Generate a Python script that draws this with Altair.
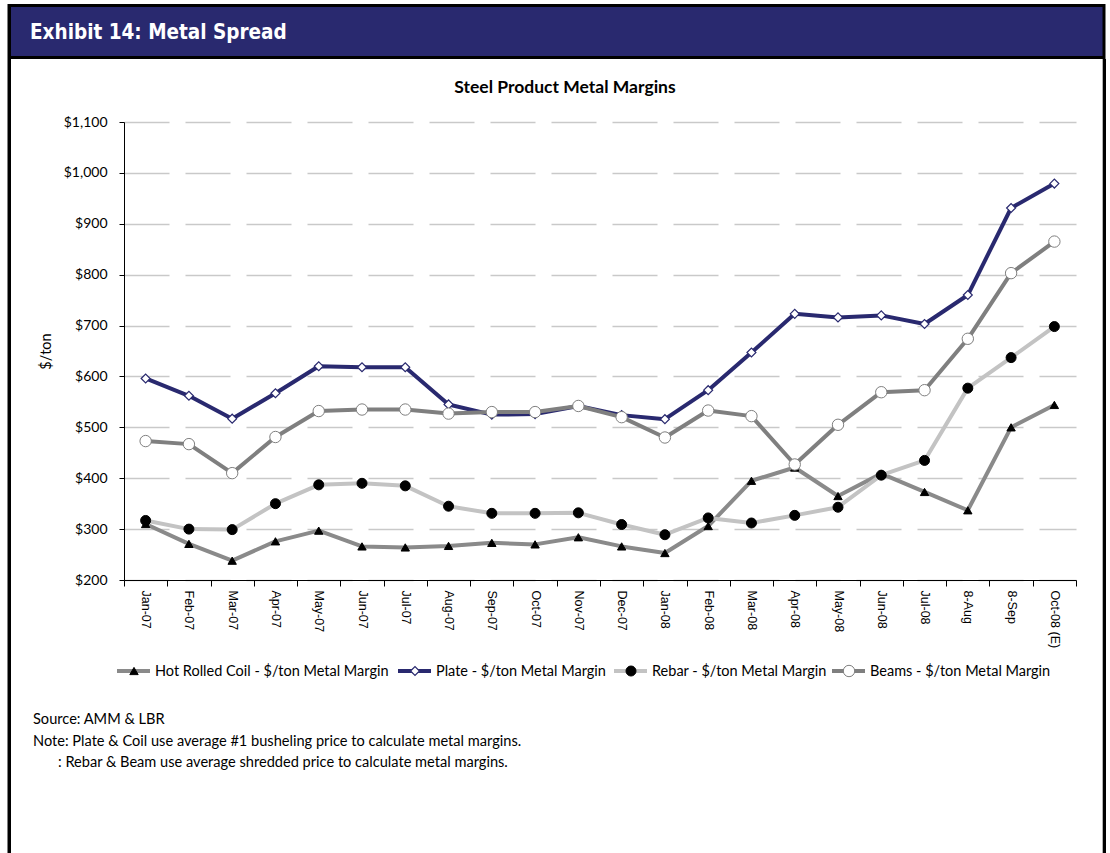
import altair as alt
import pandas as pd

# ---------------- data ----------------
months = ["Jan-07", "Feb-07", "Mar-07", "Apr-07", "May-07", "Jun-07", "Jul-07",
          "Aug-07", "Sep-07", "Oct-07", "Nov-07", "Dec-07", "Jan-08", "Feb-08",
          "Mar-08", "Apr-08", "May-08", "Jun-08", "Jul-08", "8-Aug", "8-Sep",
          "Oct-08 (E)"]
hrc = [310, 271, 238, 276, 297, 266, 264, 267, 273, 270, 284, 266, 253, 306,
       395, 421, 365, 409, 373, 337, 500, 544]
plate = [596, 562, 517, 567, 620, 618, 618, 545, 525, 526, 542, 524, 516, 573,
         647, 723, 716, 720, 703, 760, 931, 979]
rebar = [317, 300, 299, 350, 387, 390, 385, 345, 331, 331, 332, 309, 289, 322,
         312, 327, 343, 406, 435, 577, 637, 698]
beams = [473, 467, 410, 481, 532, 535, 535, 527, 530, 530, 542, 520, 480, 533,
         522, 427, 505, 569, 573, 674, 803, 865]
series_names = ["Hot Rolled Coil - $/ton Metal Margin",
                "Plate - $/ton Metal Margin",
                "Rebar - $/ton Metal Margin",
                "Beams - $/ton Metal Margin"]
y_ticks = [200, 300, 400, 500, 600, 700, 800, 900, 1000, 1100]
header_text = "Exhibit 14: Metal Spread"
chart_title = "Steel Product Metal Margins"
y_title = "$/ton"
notes = ["Source: AMM & LBR",
         "Note: Plate & Coil use average #1 busheling price to calculate metal margins.",
         ": Rebar & Beam use average shredded price to calculate metal margins."]

# ---------------- styles ----------------
NAVY = "#29296f"
styles = [
    dict(line="#8a8a8a", shape="triangle-up", fill="#000000", stroke="#000000", size=70, sw=1),
    dict(line=NAVY, shape="diamond", fill="#ffffff", stroke=NAVY, size=80, sw=1.2),
    dict(line="#c3c3c3", shape="circle", fill="#000000", stroke="#000000", size=100, sw=1),
    dict(line="#7f7f7f", shape="circle", fill="#ffffff", stroke="#7f7f7f", size=130, sw=1),
]
LABEL_FONT = "Lato"

W, H = 952, 458          # plot area
PL, PT = 124, 122        # plot origin on page
PAGE_W, PAGE_H = 1110, 853

records = []
for name, vals in zip(series_names, [hrc, plate, rebar, beams]):
    for m, v in zip(months, vals):
        records.append({"series": name, "month": m, "value": v})
df = pd.DataFrame(records)

x_enc = alt.X("month:N", sort=months,
              scale=alt.Scale(type="band", paddingInner=0, paddingOuter=0),
              axis=alt.Axis(title=None, labelAngle=90, labelFont="Liberation Sans",
                            labelFontSize=12.5, labelColor="#000000", tickBand="extent",
                            tickSize=6, tickColor="#000000", domainColor="#000000",
                            labelPadding=4, grid=False))
y_enc = alt.Y("value:Q", scale=alt.Scale(domain=[200, 1100], nice=False, zero=False),
              axis=alt.Axis(values=y_ticks, format="$,.0f", labelFont=LABEL_FONT,
                            labelFontSize=14, labelColor="#000000", tickSize=5,
                            tickColor="#000000", domainColor="#000000",
                            grid=True, gridDash=[45, 16], gridColor="#c9c9c9",
                            gridWidth=1.3, labelPadding=12, title=y_title,
                            titleFont=LABEL_FONT, titleFontSize=14.5,
                            titleFontWeight="normal", titleColor="#000000",
                            titlePadding=10))

base = alt.Chart(df).encode(x=x_enc, y=y_enc)

layers = []
one = pd.DataFrame({"d": [0]})


def rect(x1, x2, y1, y2, color):
    return alt.Chart(one).mark_rect(color=color).encode(
        x=alt.value(x1 - PL), x2=alt.value(x2 - PL),
        y=alt.value(y1 - PT), y2=alt.value(y2 - PT))


# frame and header
layers.append(rect(7.5, 1105.5, 4, 59, "#000000"))
layers.append(rect(11, 1102.5, 7, 56, NAVY))
layers.append(rect(7.5, 11, 59, PAGE_H, "#000000"))
layers.append(rect(1102.7, 1106, 59, PAGE_H, "#000000"))
layers.append(alt.Chart(one).mark_text(
    align="left", baseline="alphabetic", color="#ffffff", fontWeight="bold",
    font="'Liberation Sans Narrow', 'DejaVu Sans Condensed', sans-serif", fontSize=20.5
).encode(x=alt.value(30 - PL), y=alt.value(39 - PT), text=alt.value(header_text)))

# chart title
layers.append(alt.Chart(one).mark_text(
    align="center", baseline="alphabetic", color="#000000", fontWeight="bold",
    font=LABEL_FONT, fontSize=17.5
).encode(x=alt.value(565 - PL), y=alt.value(92.5 - PT), text=alt.value(chart_title)))

# data series
for name, st in zip(series_names, styles):
    sub = base.transform_filter(alt.datum.series == name)
    layers.append(sub.mark_line(color=st["line"], strokeWidth=4, strokeJoin="round"))
    layers.append(sub.mark_point(shape=st["shape"], filled=True, fill=st["fill"],
                                 stroke=st["stroke"], strokeWidth=st["sw"],
                                 size=st["size"], opacity=1))

# legend
leg_starts = [117, 398, 614, 832]
LEG_Y = 671
for name, st, x0 in zip(series_names, styles, leg_starts):
    layers.append(alt.Chart(one).mark_rule(color=st["line"], strokeWidth=4).encode(
        x=alt.value(x0 - PL), x2=alt.value(x0 + 33 - PL), y=alt.value(LEG_Y - PT)))
    layers.append(alt.Chart(one).mark_point(
        shape=st["shape"], filled=True, fill=st["fill"], stroke=st["stroke"],
        strokeWidth=st["sw"], size=st["size"], opacity=1
    ).encode(x=alt.value(x0 + 17 - PL), y=alt.value(LEG_Y - PT)))
    layers.append(alt.Chart(one).mark_text(
        align="left", baseline="middle", color="#000000", font=LABEL_FONT, fontSize=14.5
    ).encode(x=alt.value(x0 + 38 - PL), y=alt.value(LEG_Y + 1 - PT), text=alt.value(name)))

# notes
note_pos = [(33, 723.5), (33, 745.5), (58, 766.5)]
for txt, (nx, ny) in zip(notes, note_pos):
    layers.append(alt.Chart(one).mark_text(
        align="left", baseline="alphabetic", color="#000000", font=LABEL_FONT, fontSize=14.6
    ).encode(x=alt.value(nx - PL), y=alt.value(ny - PT), text=alt.value(txt)))

chart = alt.layer(*layers).properties(
    width=W, height=H,
    autosize=alt.AutoSizeParams(type="none"),
    padding={"left": PL, "top": PT, "right": PAGE_W - PL - W, "bottom": PAGE_H - PT - H},
    background="#ffffff",
).configure_view(strokeWidth=0)

chart.save("out.html", embed_options={"renderer": "svg", "actions": False})
